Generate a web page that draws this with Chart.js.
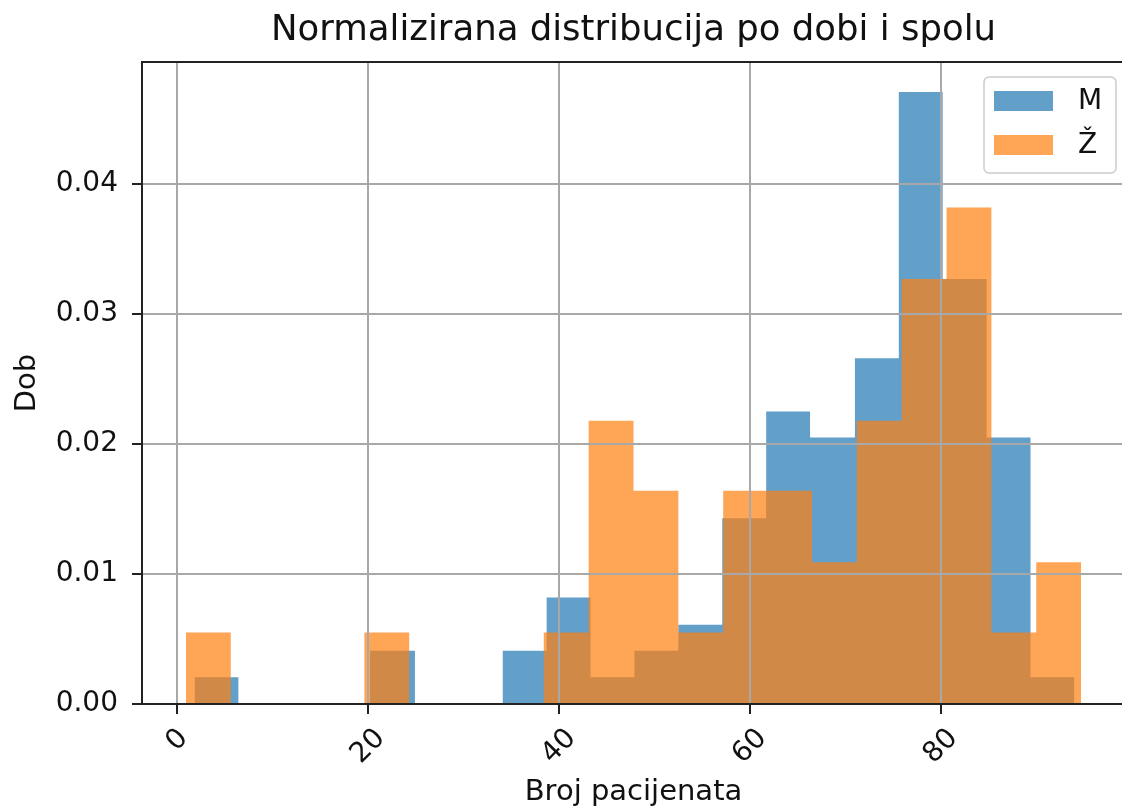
<!DOCTYPE html>
<html>
<head>
<meta charset="utf-8">
<title>Normalizirana distribucija po dobi i spolu</title>
<script src="https://cdn.jsdelivr.net/npm/chart.js@4.4.1/dist/chart.umd.min.js"></script>
<style>
  html, body { margin: 0; padding: 0; background: #fff; overflow: hidden; }
</style>
</head>
<body>
<canvas id="graph" width="1130" height="812"></canvas>
<script>
"use strict";
// histogram: 20 bins per series, density values
var mEdges = [1.8, 6.4, 11.0, 15.6, 20.2, 24.9, 29.5, 34.1, 38.7, 43.3, 47.9,
              52.5, 57.1, 61.7, 66.3, 71.0, 75.6, 80.2, 84.8, 89.4, 94.0];
var mValues = [0.00205, 0, 0, 0, 0.0041, 0, 0, 0.0041, 0.0082, 0.00205,
               0.0041, 0.0061, 0.0143, 0.0225, 0.0205, 0.0266, 0.0471, 0.0327, 0.0205, 0.00205];
var zEdges = [0.9, 5.6, 10.3, 15.0, 19.6, 24.3, 29.0, 33.7, 38.4, 43.1, 47.8,
              52.5, 57.2, 61.9, 66.5, 71.2, 75.9, 80.6, 85.3, 90.0, 94.7];
var zValues = [0.0055, 0, 0, 0, 0.0055, 0, 0, 0, 0.0055, 0.0218,
               0.0164, 0.0055, 0.0164, 0.0164, 0.0109, 0.0218, 0.0327, 0.0382, 0.0055, 0.0109];
var seriesLabels = ["M", "Ž"];
var xTicks = [0, 20, 40, 60, 80];
var yTicks = [0, 0.01, 0.02, 0.03, 0.04];

var FONT = "'DejaVu Sans', sans-serif";
var TEXT = "#111";
var GRID = "#a8a8a8";

Chart.defaults.font.family = FONT;
Chart.defaults.color = TEXT;

//turn bins into a stepped outline (last point closes the last bin)
function steps(edges, values) {
  var pts = [];
  for (let i = 0; i < values.length; i++) {
    pts.push({ x: edges[i], y: values[i] });
  }
  pts.push({ x: edges[edges.length - 1], y: 0 });
  return pts;
}

function fixedTicks(list) {
  return function (axis) {
    axis.ticks = list.map(function (v) { return { value: v }; });
  };
}

//frame, rotated x labels and legend box drawn matplotlib style
var mplBits = {
  id: "mplBits",
  afterDraw: function (chart) {
    var ctx = chart.ctx;
    var a = chart.chartArea;
    var xs = chart.scales.x;
    ctx.save();

    ctx.font = "28px " + FONT;
    ctx.fillStyle = TEXT;
    xs.ticks.forEach(function (t) {
      var label = String(t.value);
      var w = ctx.measureText(label).width;
      var h = 28 * 0.996;
      var d = (w + h) * Math.SQRT1_2;
      var cx = xs.getPixelForValue(t.value);
      var cy = a.bottom + 10 + 10 + d / 2;
      ctx.save();
      ctx.translate(cx, cy);
      ctx.rotate(-Math.PI / 4);
      ctx.textAlign = "center";
      ctx.textBaseline = "alphabetic";
      ctx.fillText(label, 0, 28 * 0.262);
      ctx.restore();
    });

    ctx.strokeStyle = "#222";
    ctx.lineWidth = 2;
    ctx.strokeRect(a.left, a.top, a.right - a.left, a.bottom - a.top);

    var lw = 132, lh = 96;
    var lx = a.right - 9 - lw, ly = a.top + 15;
    ctx.beginPath();
    ctx.roundRect(lx, ly, lw, lh, 5);
    ctx.fillStyle = "rgba(255,255,255,0.8)";
    ctx.fill();
    ctx.strokeStyle = "#cccccc";
    ctx.lineWidth = 1.5;
    ctx.stroke();
    ctx.textAlign = "left";
    ctx.textBaseline = "middle";
    chart.data.datasets.forEach(function (ds, i) {
      var y = ly + 14 + i * 44;
      ctx.fillStyle = ds.backgroundColor;
      ctx.fillRect(lx + 10, y, 59, 20);
      ctx.fillStyle = TEXT;
      ctx.fillText(ds.label, lx + 94, y + 11);
    });
    ctx.restore();
  },
};

new Chart(document.getElementById("graph"), {
  type: "line",
  data: {
    datasets: [
      {
        label: seriesLabels[0],
        data: steps(mEdges, mValues),
        stepped: "before",
        fill: "origin",
        backgroundColor: "rgba(31,119,180,0.7)",
        borderColor: "rgba(0,0,0,0)",
        pointRadius: 0,
        order: 1,
      },
      {
        label: seriesLabels[1],
        data: steps(zEdges, zValues),
        stepped: "before",
        fill: "origin",
        backgroundColor: "rgba(255,127,14,0.7)",
        borderColor: "rgba(0,0,0,0)",
        pointRadius: 0,
        order: 0,
      },
    ],
  },
  options: {
    responsive: false,
    animation: false,
    events: [],
    layout: { padding: { left: 0, right: 5, top: 0, bottom: 0 } },
    plugins: {
      legend: { display: false },
      tooltip: { enabled: false },
      title: {
        display: true,
        text: "Normalizirana distribucija po dobi i spolu",
        fullSize: false,
        color: TEXT,
        font: { size: 35.5, weight: "normal" },
        padding: { top: 9.3, bottom: 10.1 },
      },
    },
    scales: {
      x: {
        type: "linear",
        min: -3.7,
        max: 99.3,
        afterBuildTicks: fixedTicks(xTicks),
        afterFit: function (axis) { axis.height = 108; },
        border: { display: false },
        grid: { color: GRID, lineWidth: 2, z: 1, tickLength: 10, tickColor: "#222", tickWidth: 2 },
        ticks: { display: false },
        title: {
          display: true,
          text: "Broj pacijenata",
          color: TEXT,
          font: { size: 29 },
          padding: { top: 0, bottom: 2 },
        },
      },
      y: {
        type: "linear",
        min: 0,
        max: 0.0494,
        afterBuildTicks: fixedTicks(yTicks),
        afterFit: function (axis) { axis.width = 142; },
        border: { display: false },
        grid: { color: GRID, lineWidth: 2, z: 1, tickLength: 10, tickColor: "#222", tickWidth: 2 },
        ticks: {
          color: TEXT,
          font: { size: 28 },
          padding: 14,
          callback: function (v) { return v.toFixed(2); },
        },
        title: {
          display: true,
          text: "Dob",
          color: TEXT,
          font: { size: 29 },
          padding: { top: 10, bottom: 0 },
        },
      },
    },
  },
  plugins: [mplBits],
});
</script>
</body>
</html>
